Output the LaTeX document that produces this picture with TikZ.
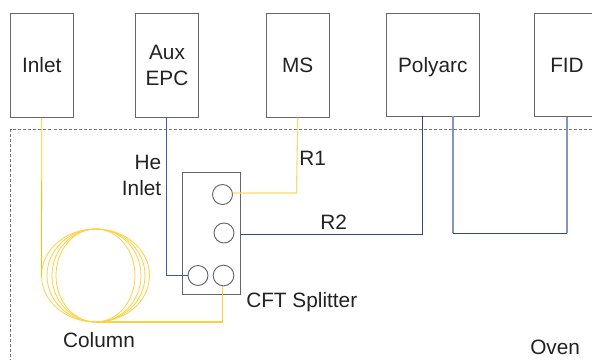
\documentclass[tikz,border=0pt]{standalone}
\usepackage{fontspec}
\setmainfont{Liberation Sans}
\usetikzlibrary{calc}
\usetikzlibrary{positioning}
\definecolor{boxgray}{HTML}{666666}
\definecolor{textgray}{HTML}{222222}
\definecolor{columngold}{HTML}{FFC000}
\definecolor{splitgold}{HTML}{FFD966}
\definecolor{linkblue}{HTML}{2F4B85}
\definecolor{auxblue}{HTML}{3A5AA5}
\definecolor{fidblue}{HTML}{8496BC}
\tikzset{
    unitbox/.style={draw=boxgray,line width=0.75pt,inner sep=0pt,align=center,text=textgray},
    port/.style={draw=boxgray,circle,line width=0.7pt,inner sep=0pt},
    label/.style={inner sep=0pt,text=textgray,align=center},
    goldline/.style={draw=columngold,line width=0.6pt},
    paleline/.style={draw=splitgold,line width=0.8pt},
    blueline/.style={draw=linkblue,line width=0.7pt},
    auxline/.style={draw=auxblue,line width=0.8pt},
    fidline/.style={draw=fidblue,line width=0.8pt},
    coil/.style={draw=columngold!75,line width=0.6pt}
}
\begin{document}
\begin{tikzpicture}[x=0.75pt,y=-0.75pt,font=\fontsize{15.6}{19.5}\selectfont]
            \clip (0,0) rectangle (592,360);

            \draw[boxgray!90,dash pattern=on 2.25pt off 1.5pt,line width=0.7pt] (10.5,129) rectangle (640,400);

            \node[unitbox,minimum width=47pt,minimum height=77.5pt] (inlet) at (41.75,65.5) {Inlet};
            \node[unitbox,minimum width=47pt,minimum height=77.5pt,text depth=0pt] (aux) at (167,65.5) {Aux\\EPC};
            \node[unitbox,minimum width=47.5pt,minimum height=77.5pt] (ms) at (297.75,65.5) {MS};
            \node[unitbox,minimum width=69.5pt,minimum height=77pt,text depth=0pt] (polyarc) at (432.75,65) {Polyarc};
            \node[unitbox,minimum width=49pt,minimum height=77pt] (fid) at (567,65) {FID};

            \node[draw=boxgray,line width=0.9pt,inner sep=0pt,minimum width=43pt,minimum height=92pt] (splitter) at (211.5,233.5) {};

            \node[port,minimum size=15pt] (p1) at (222.5,194.5) {};
            \node[port,minimum size=15pt] (p2) at (224,233) {};
            \node[port,minimum size=15pt] (p3) at (198,275.5) {};
            \node[port,minimum size=15.5pt] (p4) at (223.5,275.5) {};

            \coordinate (c1) at (95.5,322);
            \coordinate (c2) at (41.5,275);
            \coordinate (r1) at (296.5,193);
            \coordinate (r2) at (422,234);
            \coordinate (auxs) at (166.5,117);
            \coordinate (p4s) at (222.5,286);
            \coordinate (polyarcl) at (422,116);
            \coordinate (polyarcr) at (453,116);
            \coordinate (loopl) at (453,233);
            \coordinate (loopr) at (567,233);

            % column windings
            \draw[coil] (95.5,275.5) ellipse (54 and 46.5);
            \draw[coil] (96,275.5) ellipse (49 and 46.5);
            \draw[coil] (96.5,275.5) ellipse (44.5 and 46.5);
            \draw[coil] (95.5,275.5) ellipse (39.5 and 46.5);

            \draw[goldline] (inlet.south)--(c2);
            \draw[goldline,draw=splitgold!60!columngold,line width=0.8pt] (c1)-|(p4s);
            \draw[auxline] (p3.west)-|(auxs);
            \draw[paleline] ($(p1.east)+(0,-1.5)$)--(r1)--(ms.south);
            \draw[blueline] (splitter.east|-r2)--(r2)--(polyarcl);
            \draw[fidline] (polyarcr)--(loopl);
            \draw[blueline] (loopl)--(loopr);
            \draw[fidline] (loopr)--(fid.south);

            \node[label,left=0pt] (he) at (161.5,177) {\begin{tabular}{@{}r@{}}He\\Inlet\end{tabular}};
            \node[label,right=0pt] (r1label) at (299,158) {R1};
            \node[label,right=0pt] (r2label) at (320,222) {R2};
            \node[label,right=0pt] (cft) at (246,302.5) {CFT Splitter};
            \node[label] (column) at (99,340) {Column};
            \node[label,right=0pt] (oven) at (530,347) {Oven};
        \end{tikzpicture}
\end{document}
